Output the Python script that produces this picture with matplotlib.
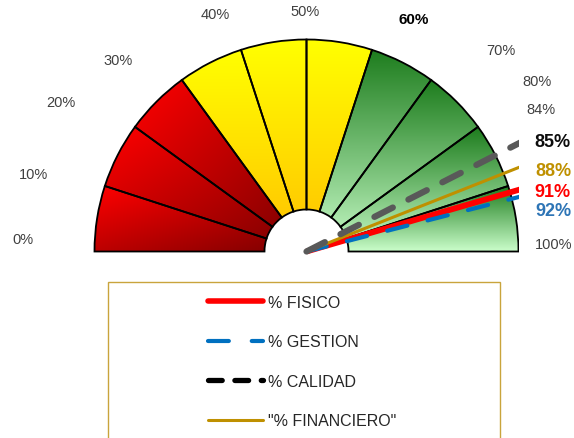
import numpy as np
import matplotlib
matplotlib.use("Agg")
import matplotlib.pyplot as plt
from matplotlib.patches import Wedge, Rectangle
from matplotlib.lines import Line2D
from matplotlib.colors import to_rgb

plt.rcParams["font.family"] = ["Liberation Sans", "DejaVu Sans"]

# gauge bands, in percent
bands = [0, 10, 20, 30, 40, 50, 60, 70, 80, 90, 100]
band_groups = ["red", "red", "red", "yellow", "yellow", "yellow",
               "green", "green", "green", "green"]

# scale labels around the gauge
scale_values = [0, 10, 20, 30, 40, 50, 60, 70, 80, 84, 100]

# needles
series = ["% FISICO", "% GESTION", "% CALIDAD", '"% FINANCIERO"']
values = [91, 92, 85, 88]

# layout (not data): label placement as (position in %, radius in px)
scale_label_pos = [(1.4, 284), (8.75, 284), (17.4, 288), (25.3, 269), (38.3, 254),
                   (49.8, 241), (63.7, 256), (74.5, 280), (79.7, 287), (82.6, 275),
                   (99.0, 247)]
value_label_pos = [(92.4, 253), (94.8, 250), (86.6, 269), (89.9, 260)]

gradients = {
    "red": ("#ff0000", "#780000", "diag"),
    "yellow": ("#ffff00", "#ffc000", "vert"),
    "green": ("#1e7d1e", "#ccffcc", "vert"),
}

needle_styles = [
    dict(color="#ff0000", lw=4.2, solid_capstyle="butt", zorder=5),
    dict(color="#0070c0", lw=3.0, ls=(0, (5, 5)), dash_capstyle="round", zorder=6),
    dict(color="#595959", lw=4.5, ls=(0, (3.3, 2.8)), dash_capstyle="round",
         solid_capstyle="round", zorder=8),
    dict(color="#bf9000", lw=2.2, zorder=7),
]
legend_styles = [
    dict(color="#ff0000", lw=4.0, solid_capstyle="round"),
    dict(color="#0070c0", lw=3.0, ls=(0, (5, 5.5)), dash_capstyle="round"),
    dict(color="#000000", lw=3.8, ls=(0, (2.6, 2.4)), dash_capstyle="round"),
    dict(color="#bf9000", lw=2.2, solid_capstyle="round"),
]
value_colors = ["#ff0000", "#2e75b6", "#0d0d0d", "#bf9000"]

W, H = 574, 439
fig = plt.figure(figsize=(W / 100, H / 100), dpi=100)
ax = fig.add_axes([0, 0, 519 / W, 1])

cx, cy = 306.5, 186.5
R, r_in = 212, 42


def angle(p):
    return np.pi * (1 - p / 100.0)


def polar(p, r):
    return cx + r * np.cos(angle(p)), cy + r * np.sin(angle(p))


def gradient_image(c0, c1, mode, n=200):
    u, v = np.meshgrid(np.linspace(0, 1, n), np.linspace(0, 1, n))
    if mode == "diag":
        t = 0.5 * (u + (1 - v))
    else:
        t = 1 - v
    a, b = np.array(to_rgb(c0)), np.array(to_rgb(c1))
    return a + (b - a) * t[..., None]


for p0, p1, g in zip(bands[:-1], bands[1:], band_groups):
    w = Wedge((cx, cy), R, np.degrees(angle(p1)), np.degrees(angle(p0)),
              width=R - r_in, facecolor="none", edgecolor="black", lw=1.3, zorder=3)
    ax.add_patch(w)
    verts = w.get_path().vertices
    x0, y0 = verts.min(axis=0)
    x1, y1 = verts.max(axis=0)
    c0, c1, mode = gradients[g]
    im = ax.imshow(gradient_image(c0, c1, mode), extent=[x0, x1, y0, y1],
                   origin="lower", aspect="auto", interpolation="bilinear", zorder=2)
    im.set_clip_path(w)

for v, st in zip(values, needle_styles):
    ex, ey = polar(v, 260)
    ax.add_line(Line2D([cx, ex], [cy, ey], **st))

for v, (pp, rr) in zip(scale_values, scale_label_pos):
    x, y = polar(pp, rr)
    bold = v == 60
    ax.text(x, y, f"{v}%", ha="center", va="center", fontsize=11 if bold else 10.5,
            fontweight="bold" if bold else "normal",
            color="black" if bold else "#404040", clip_on=False)

for v, c, (pp, rr) in zip(values, value_colors, value_label_pos):
    x, y = polar(pp, rr)
    ax.text(x, y, f"{v}%", ha="center", va="center", fontsize=13,
            fontweight="bold", color=c, clip_on=False)

ax.set_xlim(0, 519)
ax.set_ylim(0, H)
ax.axis("off")

# legend box
fig.patches.append(Rectangle((108 / W, -0.05), 392 / W, 1 - 283 / H + 0.05,
                             transform=fig.transFigure, facecolor="none",
                             edgecolor="#c9a43c", lw=1.0))
handles = [Line2D([], [], **st) for st in legend_styles]
fig.legend(handles, series, loc="upper left", bbox_to_anchor=(208 / W, 1 - 296 / H),
           frameon=False, borderpad=0, borderaxespad=0, handlelength=3.45,
           handletextpad=0.3, labelspacing=1.53, fontsize=11.5, labelcolor="#262626")

fig.savefig("out.png", dpi=100)
